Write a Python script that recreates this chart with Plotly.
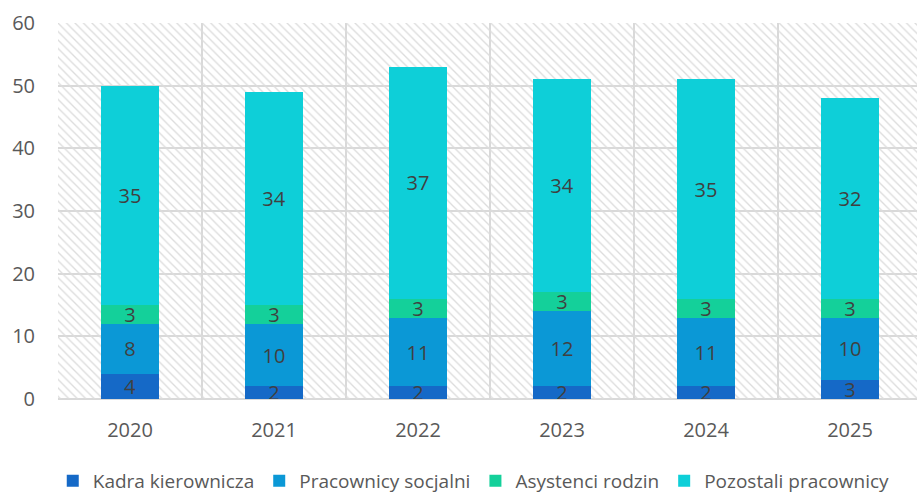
import plotly.graph_objects as go

years = ["2020", "2021", "2022", "2023", "2024", "2025"]
kadra = [4, 2, 2, 2, 2, 3]
socjalni = [8, 10, 11, 12, 11, 10]
asystenci = [3, 3, 3, 3, 3, 3]
pozostali = [35, 34, 37, 34, 35, 32]
series_names = ["Kadra kierownicza", "Pracownicy socjalni", "Asystenci rodzin", "Pozostali pracownicy"]
colors = ["#1569C7", "#0B98D6", "#14D09A", "#0ECFD8"]
y_max = 60

fig = go.Figure()

# patterned plot background (on base axes, drawn beneath data)
fig.add_trace(go.Bar(
    x=years, y=[y_max] * len(years), width=1,
    marker=dict(color="rgba(0,0,0,0)", line=dict(width=0),
                pattern=dict(shape="\\", fgcolor="#dcdcdc", bgcolor="rgba(0,0,0,0)",
                             size=6, solidity=0.22, fillmode="replace")),
    hoverinfo="skip", showlegend=False, xaxis="x", yaxis="y",
))

for name, vals, col in zip(series_names, [kadra, socjalni, asystenci, pozostali], colors):
    fig.add_trace(go.Bar(
        x=years, y=vals, name=name, marker=dict(color=col, line=dict(width=0)),
        text=[str(v) for v in vals], textposition="inside", insidetextanchor="middle",
        constraintext="none", textangle=0,
        textfont=dict(size=20, color="#404040", family="Open Sans"),
        xaxis="x2", yaxis="y2",
    ))

font = "Open Sans"
fig.update_layout(
    width=917, height=494,
    margin=dict(l=58, r=0, t=23, b=95, autoexpand=False),
    paper_bgcolor="white", plot_bgcolor="white",
    barmode="stack", bargap=0.6,
    font=dict(family=font, size=20, color="#595959"),
    xaxis=dict(type="category", range=[-0.5, 5.465], tickson="boundaries",
               showgrid=True, gridcolor="#d9d9d9", gridwidth=1.5, automargin=False,
               showline=False, ticks="", tickfont=dict(size=20, color="#595959"),
               ticklabelstandoff=17),
    yaxis=dict(range=[0, y_max], dtick=10, showgrid=True, gridcolor="#d9d9d9", gridwidth=1.5,
               zeroline=True, zerolinecolor="#d9d9d9", zerolinewidth=1.5, automargin=False,
               ticks="", ticklen=0, tickfont=dict(size=20, color="#595959"),
               ticklabelstandoff=22),
    xaxis2=dict(type="category", range=[-0.5, 5.465], overlaying="x", showgrid=False,
                showticklabels=False, showline=False, ticks="", automargin=False),
    yaxis2=dict(range=[0, y_max], overlaying="y", showgrid=False, showticklabels=False,
                zeroline=False, ticks="", automargin=False),
    legend=dict(orientation="h", x=0.484, xanchor="center",
                y=-(481 - 399) / 376, yanchor="middle",
                font=dict(size=19, color="#595959"), traceorder="normal",
                itemwidth=30, tracegroupgap=0, borderwidth=0),
)

fig.write_html("out.html", post_script="document.body.style.margin='0';",
               config={"displayModeBar": False})
